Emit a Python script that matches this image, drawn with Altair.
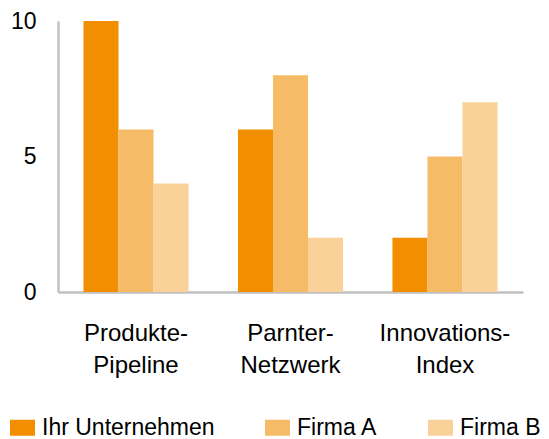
import altair as alt
import pandas as pd

categories = ["Produkte-\nPipeline", "Parnter-\nNetzwerk", "Innovations-\nIndex"]
series = ["Ihr Unternehmen", "Firma A", "Firma B"]
ihr_unternehmen = [10, 6, 2]
firma_a = [6, 8, 5]
firma_b = [4, 2, 7]
colors = ["#F28F00", "#F6BB66", "#F9D199"]
y_ticks = [0, 5, 10]

rows = []
for s, vals in zip(series, [ihr_unternehmen, firma_a, firma_b]):
    for c, v in zip(categories, vals):
        rows.append({"Kategorie": c, "Serie": s, "Wert": v})
df = pd.DataFrame(rows)

FONT = "Liberation Sans"

chart = alt.Chart(df).mark_bar().encode(
    x=alt.X(
        "Kategorie:N",
        sort=categories,
        scale=alt.Scale(paddingInner=0.32, paddingOuter=0.165),
        axis=alt.Axis(
            title=None,
            labelExpr="split(datum.label, '\\n')",
            labelAngle=0,
            ticks=False,
            domainColor="#C0C0C0",
            domainWidth=2.5,
            labelFont=FONT,
            labelFontSize=24,
            labelColor="black",
            labelPadding=29,
            labelLineHeight=32,
            labelLimit=300,
        ),
    ),
    xOffset=alt.XOffset("Serie:N", sort=series, scale=alt.Scale(paddingInner=0, paddingOuter=0)),
    y=alt.Y(
        "Wert:Q",
        scale=alt.Scale(domain=[0, 10], nice=False),
        axis=alt.Axis(
            title=None,
            values=y_ticks,
            grid=False,
            ticks=False,
            domainColor="#C0C0C0",
            domainWidth=2.5,
            labelFont=FONT,
            labelFontSize=23,
            labelColor="black",
            labelPadding=22,
        ),
    ),
    color=alt.Color(
        "Serie:N",
        sort=series,
        scale=alt.Scale(domain=series, range=colors),
        legend=alt.Legend(
            title=None,
            orient="none",
            legendX=-48,
            legendY=394,
            direction="horizontal",
            columns=3,
            columnPadding=50,
            symbolType="M-1,-0.64H1V0.64H-1Z",
            symbolSize=625,
            symbolStrokeWidth=0,
            labelFont=FONT,
            labelFontSize=23,
            labelColor="black",
            labelLimit=400,
            labelOffset=7,
            padding=0,
        ),
    ),
).properties(
    width=465,
    height=271,
    autosize=alt.AutoSizeParams(type="none"),
    padding={"left": 50, "top": 13, "right": 18, "bottom": 147},
).configure_view(stroke=None)

chart.save("out.html", embed_options={"renderer": "svg", "actions": False})
